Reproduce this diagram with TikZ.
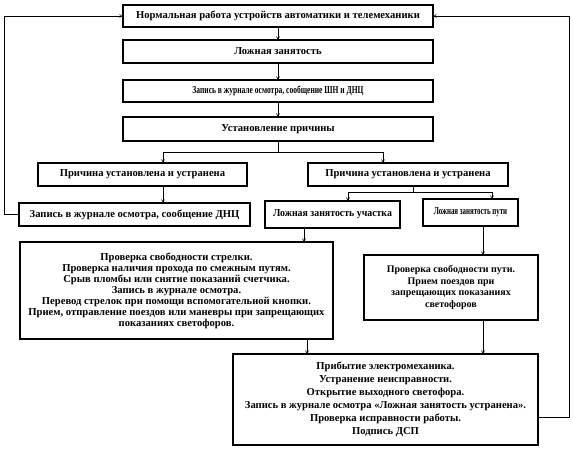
\documentclass[tikz,border=0pt]{standalone}
\usepackage{fontspec}
\usepackage{graphicx}
\setmainfont{Liberation Serif}
\usetikzlibrary{arrows.meta,shadows}
\begin{document}
\begin{tikzpicture}[x=1pt,y=-1pt,
  box/.style={draw=black,line width=1.4pt,fill=white,align=center,inner sep=0pt,
    font=\bfseries\fontsize{10.6}{11}\selectfont,
    drop shadow={shadow xshift=1.3pt,shadow yshift=-1.3pt,fill=gray!80,opacity=1}},
  conn/.style={line width=0.6pt},
  arr/.style={conn,-{To[length=3pt,width=3.5pt]}}]
\useasboundingbox (0,0) rectangle (573,448);
\node[box,minimum width=310,minimum height=22] (top) at (278,16) {Нормальная работа устройств автоматики и телемеханики};
\node[box,minimum width=310,minimum height=23] (lz) at (278,51.5) {Ложная занятость};
\node[box,minimum width=310,minimum height=22] (zap) at (278,91) {\scalebox{0.71}[1]{Запись в журнале осмотра, сообщение ШН и ДНЦ}};
\node[box,minimum width=310,minimum height=24] (ust) at (278,129) {Установление причины};
\node[box,minimum width=209,minimum height=23] (pl) at (142.5,174.5) {Причина установлена и устранена};
\node[box,minimum width=200,minimum height=23] (pr) at (408,174.5) {Причина установлена и устранена};
\node[box,minimum width=231,minimum height=23] (dnc) at (134.5,214.5) {Запись в журнале осмотра, сообщение ДНЦ};
\node[box,minimum width=135,minimum height=27] (uch) at (332.5,214.5) {\scalebox{0.93}[1]{Ложная занятость участка}};
\node[box,minimum width=95,minimum height=27] (put) at (470.5,212.5) {\scalebox{0.65}[1]{Ложная занятость пути}};
\node[box,minimum width=313,minimum height=97] (bl) at (176.5,290.5) {Проверка свободности стрелки.\\Проверка наличия прохода по смежным путям.\\Срыв пломбы или снятие показаний счетчика.\\Запись в журнале осмотра.\\Перевод стрелок при помощи вспомогательной кнопки.\\Прием, отправление поездов или маневры при запрещающих\\показаниях светофоров.};
\node[box,minimum width=174,minimum height=65,font=\bfseries\fontsize{10}{11.7}\selectfont] (rs) at (451,287.5) {Проверка свободности пути.\\Прием поездов при\\запрещающих показаниях\\светофоров};
\node[box,minimum width=305,minimum height=91,font=\bfseries\fontsize{10.6}{13}\selectfont] (bot) at (385.5,399.5) {Прибытие электромеханика.\\Устранение неисправности.\\Открытие выходного светофора.\\Запись в журнале осмотра «Ложная занятость устранена».\\Проверка исправности работы.\\Подпись ДСП};
% coordinates
\coordinate (sl) at (163,152);
\coordinate (sr) at (383,152);
\coordinate (ml) at (348,192);
\coordinate (mr) at (492,192);
\coordinate (mc) at (413,192);
\coordinate (xu) at (304,0);
\coordinate (xb) at (307,0);
\coordinate (xp) at (483,0);
\coordinate (fl) at (4,214.5);
\coordinate (fr) at (569,417);
% main chain
\draw[arr] (top) -- (lz);
\draw[arr] (lz) -- (zap);
\draw[arr] (zap) -- (ust);
\draw[conn] (ust.south) -- (ust.south |- sl);
\draw[conn] (sl) -- (sr);
\draw[arr] (sl) -- (sl |- pl.north);
\draw[arr] (sr) -- (sr |- pr.north);
\draw[arr] (pl.south -| sl) -- (dnc.north -| sl);
\draw[conn] (pr.south -| mc) -- (mc);
\draw[conn] (ml) -- (mr);
\draw[arr] (ml) -- (ml |- uch.north);
\draw[arr] (mr) -- (mr |- put.north);
\draw[arr] (uch.south -| xu) -- (bl.north -| xu);
\draw[arr] (bl.south -| xb) -- (bot.north -| xb);
\draw[arr] (put.south -| xp) -- (rs.north -| xp);
\draw[arr] (rs.south -| xp) -- (bot.north -| xp);
% feedback
\draw[arr] (dnc.west) -- (fl) |- (top.west);
\draw[arr] (fr -| bot.east) -- (fr) |- (top.east);
\end{tikzpicture}
\end{document}
